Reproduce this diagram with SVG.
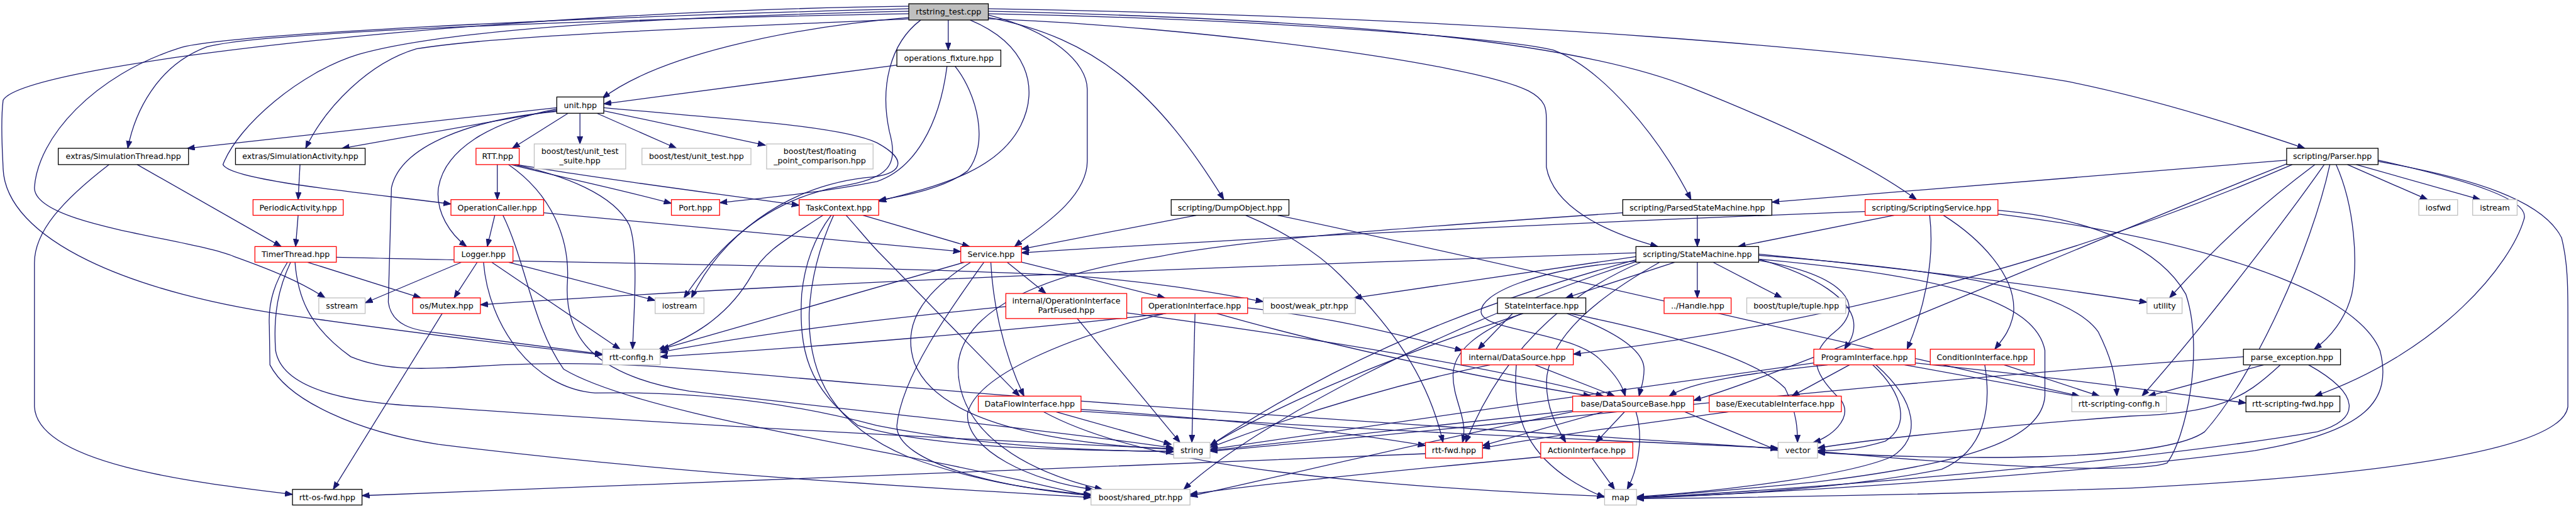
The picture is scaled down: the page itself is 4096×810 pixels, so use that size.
<svg xmlns="http://www.w3.org/2000/svg" width="4096" height="810" viewBox="0 0 4096 810">
<defs>
<marker id="a" markerUnits="userSpaceOnUse" markerWidth="13" markerHeight="10" refX="12" refY="4.5" orient="auto"><path d="M0,0L12,4.5L0,9z" fill="#191970" stroke="#191970" stroke-width="1"/></marker>
<style>
.e path{fill:none;stroke:#191970;stroke-width:1.3;marker-end:url(#a)}
rect{fill:#fff;stroke-width:1.3}
.k rect{stroke:#000}
.r rect{stroke:#f00}
.g rect{stroke:#bfbfbf}
text{font-family:"DejaVu Sans","Liberation Sans",sans-serif;font-size:12.7px;text-anchor:middle;fill:#000}
</style>
</defs>
<rect x="0" y="0" width="4096" height="810" style="fill:#fff;stroke:none"/>
<g transform="scale(0.99587)">
<g id="edges" class="e">
<path d="M1514,32 L1514,80"/>
<path d="M1451,28 C1250,45 1050,90 962,157"/>
<path d="M1451,22 C1000,30 420,50 330,75 C250,105 215,180 204,237"/>
<path d="M1455,30 C1200,42 800,55 665,78 C590,100 520,170 488,237"/>
<path d="M1451,18 C1000,28 700,50 572,87 C480,115 380,200 356,263 C370,290 600,310 720,326"/>
<path d="M1451,14 C900,28 350,55 286,77 C150,120 60,220 55,300 C55,360 300,380 374,410 C430,430 480,450 519,476"/>
<path d="M1451,10 C800,18 40,100 5,160 C0,200 5,260 5,270 C10,380 200,470 484,507 C650,530 850,555 962,567"/>
<path d="M1470,32 C1420,70 1405,140 1420,210 C1435,265 1420,285 1340,298 C1200,325 1130,420 1092,476"/>
<path d="M1549,32 C1640,70 1660,140 1630,200 C1590,280 1480,300 1403,322"/>
<path d="M1578,24 C1680,50 1736,100 1736,143 L1736,257 C1736,320 1650,370 1620,394"/>
<path d="M1578,28 C1750,60 1850,150 1954,319"/>
<path d="M1578,22 C2000,30 2400,60 2480,80 C2560,110 2650,220 2700,319"/>
<path d="M1578,30 C1900,42 2350,100 2440,145 C2469,160 2469,175 2469,190 L2469,267 C2480,330 2560,370 2647,394"/>
<path d="M1578,18 C2100,30 2500,60 2700,140 C2850,200 2980,260 3060,319"/>
<path d="M1578,14 C2400,28 3000,80 3300,130 C3450,160 3600,210 3680,237"/>
<path d="M1432,104 L964,166"/>
<path d="M1525,106 C1560,150 1580,230 1545,273 C1510,300 1450,312 1403,320"/>
<path d="M1512,106 C1500,200 1460,270 1400,290 C1300,310 1200,318 1149,324"/>
<path d="M889,172 L299,237"/>
<path d="M889,176 L546,237"/>
<path d="M907,181 L818,237"/>
<path d="M926,181 L926,230"/>
<path d="M953,181 L1080,237"/>
<path d="M964,177 L1222,232"/>
<path d="M889,174 C780,195 710,240 700,300 C695,340 720,375 745,394"/>
<path d="M889,178 C760,190 640,230 625,300 L620,483 C625,520 660,528 700,532 C800,545 900,558 962,566"/>
<path d="M964,172 C1150,190 1340,200 1400,228 C1450,255 1445,280 1380,284 C1250,300 1150,380 1104,476"/>
<path d="M219,263 L449,394"/>
<path d="M174,263 C100,320 55,370 55,420 L55,650 C60,740 300,770 467,790"/>
<path d="M479,263 L476,319"/>
<path d="M476,344 L472,394"/>
<path d="M794,263 L794,319"/>
<path d="M816,263 C880,280 980,300 1072,325"/>
<path d="M825,263 C950,285 1150,310 1276,328"/>
<path d="M821,263 C900,280 980,310 1005,360 C1020,400 1012,500 1010,558"/>
<path d="M812,263 C880,310 910,380 906,450 C900,540 950,600 1100,625 C1400,660 1700,690 1874,716"/>
<path d="M790,344 L778,394"/>
<path d="M868,340 L1534,402"/>
<path d="M803,344 C840,420 850,520 900,590 C1000,650 1300,700 1500,740 C1650,770 1700,785 1742,792"/>
<path d="M737,419 L583,484"/>
<path d="M762,419 L725,476"/>
<path d="M785,419 L990,558"/>
<path d="M812,419 L1046,480"/>
<path d="M772,419 C780,520 850,620 950,628 C1100,625 1250,640 1400,680 C1600,720 1800,720 1874,722"/>
<path d="M491,419 L672,476"/>
<path d="M537,411 C900,420 1400,425 1700,440 C1850,450 1950,470 2017,482"/>
<path d="M459,419 C440,450 428,480 430,520 L431,583 C460,640 570,690 700,710 C1100,760 1500,780 1742,795"/>
<path d="M464,419 C445,460 436,500 440,560 C450,620 550,645 690,650 C1100,680 1600,705 1874,717"/>
<path d="M471,419 C475,470 490,520 560,570 C620,595 680,590 800,583 C1000,575 1100,590 1400,615 C2000,665 2600,700 2839,717"/>
<path d="M706,501 L532,782"/>
<path d="M1378,344 L1548,394"/>
<path d="M1351,344 C1370,365 1390,390 1405,405 L1628,633"/>
<path d="M1314,344 C1260,380 1220,400 1200,440 C1160,510 1100,540 1050,560"/>
<path d="M1327,344 C1300,380 1285,420 1280,470 C1275,560 1290,620 1370,680 C1500,720 1750,720 1874,721"/>
<path d="M1331,344 C1310,390 1295,440 1292,500 C1290,600 1330,680 1450,730 C1560,770 1660,785 1742,790"/>
<path d="M1608,419 L1670,469"/>
<path d="M1628,418 L1860,476"/>
<path d="M1582,419 C1585,480 1600,560 1635,633"/>
<path d="M1540,419 L1056,558"/>
<path d="M1571,419 C1520,490 1440,600 1432,680 C1430,740 1600,780 1742,792"/>
<path d="M1550,419 C1470,470 1440,520 1460,580 C1500,680 1700,710 1874,718"/>
<path d="M1910,344 L1631,398"/>
<path d="M2040,344 C2400,420 3000,560 3320,633"/>
<path d="M1989,344 C2040,365 2100,400 2140,440 C2220,520 2280,600 2304,707"/>
<path d="M2710,344 L2710,394"/>
<path d="M2591,340 C2300,360 2000,380 1850,410 C1650,440 1540,500 1530,580 C1525,680 1620,750 1760,782"/>
<path d="M2978,338 C2600,352 2000,380 1631,404"/>
<path d="M3024,344 L2775,394"/>
<path d="M3081,344 C3090,420 3070,500 3045,558"/>
<path d="M3103,344 C3160,380 3220,440 3215,500 C3210,530 3195,545 3185,558"/>
<path d="M3190,336 C3350,350 3450,400 3490,470 C3520,560 3490,700 3460,740 C3400,760 3100,740 2902,721"/>
<path d="M3190,342 C3500,380 3760,460 3800,560 C3820,640 3780,690 3600,720 C3300,760 2800,790 2613,795"/>
<path d="M2612,410 L2162,476"/>
<path d="M2612,404 C2000,425 1300,450 767,487"/>
<path d="M2674,419 L2500,476"/>
<path d="M2710,419 L2710,476"/>
<path d="M2735,419 L2845,476"/>
<path d="M2808,406 C3050,430 3250,455 3428,483"/>
<path d="M2612,417 C2450,430 2360,470 2365,500 C2370,530 2520,530 2560,580 C2580,600 2590,615 2595,633"/>
<path d="M2650,419 C2560,470 2480,530 2470,600 C2465,650 2490,690 2500,707"/>
<path d="M2808,414 C2900,440 2960,480 2960,520 C2960,540 2950,550 2945,558"/>
<path d="M2612,415 C2300,500 2100,600 1932,712"/>
<path d="M2612,418 C2300,520 2000,680 1890,782"/>
<path d="M2808,414 C3100,440 3250,480 3265,560 L3265,633 C3260,700 3150,740 2900,770 C2750,785 2650,792 2613,795"/>
<path d="M2808,416 C2950,440 2980,490 2930,530 C2880,570 2900,600 2940,640 C2960,670 2920,700 2895,707"/>
<path d="M2808,408 C3100,430 3300,460 3350,530 C3370,570 3378,600 3380,633"/>
<path d="M2620,419 C2500,470 2400,560 2340,707"/>
<path d="M3651,256 L2829,323"/>
<path d="M3748,263 L3876,319"/>
<path d="M3762,263 L3960,319"/>
<path d="M3696,263 C3620,320 3550,380 3464,476"/>
<path d="M3730,263 C3760,330 3765,420 3755,470 C3745,510 3720,540 3695,558"/>
<path d="M3797,256 C3950,290 4040,320 4030,350 C4010,420 3900,560 3696,633"/>
<path d="M3797,258 C3950,285 4060,320 4090,380 C4100,420 4100,460 4100,500 L4100,650 C4090,720 3800,760 3400,780 C3100,790 2800,795 2613,797"/>
<path d="M3711,263 C3650,350 3520,520 3420,633"/>
<path d="M3720,263 C3690,400 3600,600 3520,690 C3450,740 3100,735 2902,723"/>
<path d="M3660,263 C3300,420 2900,520 2512,566"/>
<path d="M3651,262 C3300,400 2900,580 2704,640"/>
<path d="M2415,501 L2360,558"/>
<path d="M2430,501 C2360,530 2320,560 2320,600 C2320,640 2345,670 2335,707"/>
<path d="M2502,501 C2580,530 2625,560 2625,590 C2625,610 2620,620 2617,633"/>
<path d="M2432,501 C2250,560 2050,640 1932,712"/>
<path d="M2507,501 C2650,530 2800,570 2850,620 C2870,660 2870,690 2870,707"/>
<path d="M2451,583 L2578,633"/>
<path d="M2421,583 C2415,660 2430,740 2562,795"/>
<path d="M2379,583 C2200,620 2050,670 1932,715"/>
<path d="M2594,658 L2548,707"/>
<path d="M2612,658 C2625,700 2615,750 2598,782"/>
<path d="M2560,658 L2367,712"/>
<path d="M2520,655 C2300,680 2100,700 1932,720"/>
<path d="M2690,658 L2839,720"/>
<path d="M2515,657 C2300,700 2050,760 1900,793"/>
<path d="M2760,658 C2600,680 2450,700 2367,716"/>
<path d="M2953,583 L2861,633"/>
<path d="M2918,583 C2800,595 2700,610 2665,633"/>
<path d="M2990,583 C3040,630 3050,680 3010,705 C2960,720 2930,720 2902,720"/>
<path d="M2995,583 C3060,640 3070,700 3020,730 C2950,760 2750,785 2613,794"/>
<path d="M3041,583 L3320,634"/>
<path d="M3058,580 C3300,605 3450,625 3586,644"/>
<path d="M2896,580 C2600,620 2200,680 1932,718"/>
<path d="M3200,583 L3352,633"/>
<path d="M3169,583 C3180,650 3170,720 3100,750 C2950,780 2750,792 2613,796"/>
<path d="M3614,583 L3430,633"/>
<path d="M3582,570 C3000,610 2400,680 1932,721"/>
<path d="M3641,583 C3580,640 3540,660 3400,665 C3200,680 3000,700 2902,716"/>
<path d="M3686,583 C3770,630 3770,670 3700,690 C3400,740 2900,780 2613,796"/>
<path d="M2542,732 L2578,782"/>
<path d="M2460,730 C2200,755 2000,775 1900,790"/>
<path d="M2276,725 C1800,745 1000,775 578,792"/>
<path d="M1686,658 L1870,710"/>
<path d="M1666,658 C1780,720 2000,770 2562,793"/>
<path d="M1726,654 C1950,670 2150,690 2276,712"/>
<path d="M1726,657 C2200,690 2600,705 2839,716"/>
<path d="M1720,509 L1884,707"/>
<path d="M1606,490 C1400,510 1200,535 1054,563"/>
<path d="M1799,500 C2100,540 2400,590 2560,633"/>
<path d="M1908,501 L1903,707"/>
<path d="M1862,501 C1600,530 1300,555 1054,570"/>
<path d="M1860,501 C1700,540 1560,600 1545,660 C1540,720 1650,770 1745,782"/>
<path d="M1943,501 C2150,560 2400,610 2540,633"/>
<path d="M1992,492 C2150,510 2250,540 2335,560"/>
</g>
<g id="n_main" class="k"><rect x="1451" y="6" width="127" height="26" style="fill:#bfbfbf"/><text x="1514.5" y="23.5">rtstring_test.cpp</text></g>
<g id="n_ops" class="k"><rect x="1432" y="80" width="166" height="26"/><text x="1515" y="97.5">operations_fixture.hpp</text></g>
<g id="n_unit" class="k"><rect x="889" y="155" width="75" height="26"/><text x="926.5" y="172.5">unit.hpp</text></g>
<g id="n_simthread" class="k"><rect x="93" y="237" width="208" height="26"/><text x="197" y="254.5">extras/SimulationThread.hpp</text></g>
<g id="n_simactivity" class="k"><rect x="376" y="237" width="207" height="26"/><text x="479.5" y="254.5">extras/SimulationActivity.hpp</text></g>
<g id="n_rtt" class="r"><rect x="760" y="237" width="69" height="26"/><text x="794.5" y="254.5">RTT.hpp</text></g>
<g id="n_uts" class="g"><rect x="853" y="230" width="146" height="40"/><text x="926" y="246">boost/test/unit_test</text><text x="926" y="261">_suite.hpp</text></g>
<g id="n_ut" class="g"><rect x="1025" y="237" width="174" height="26"/><text x="1112" y="254.5">boost/test/unit_test.hpp</text></g>
<g id="n_fpc" class="g"><rect x="1224" y="230" width="170" height="40"/><text x="1309" y="246">boost/test/floating</text><text x="1309" y="261">_point_comparison.hpp</text></g>
<g id="n_parser" class="k"><rect x="3651" y="237" width="146" height="26"/><text x="3724" y="254.5">scripting/Parser.hpp</text></g>
<g id="n_periodic" class="r"><rect x="404" y="319" width="144" height="25"/><text x="476" y="336">PeriodicActivity.hpp</text></g>
<g id="n_opcaller" class="r"><rect x="720" y="319" width="148" height="25"/><text x="794" y="336">OperationCaller.hpp</text></g>
<g id="n_port" class="r"><rect x="1072" y="319" width="77" height="25"/><text x="1110.5" y="336">Port.hpp</text></g>
<g id="n_taskcontext" class="r"><rect x="1276" y="319" width="127" height="25"/><text x="1339.5" y="336">TaskContext.hpp</text></g>
<g id="n_dump" class="k"><rect x="1870" y="319" width="188" height="25"/><text x="1964" y="336">scripting/DumpObject.hpp</text></g>
<g id="n_psm" class="k"><rect x="2591" y="319" width="238" height="25"/><text x="2710" y="336">scripting/ParsedStateMachine.hpp</text></g>
<g id="n_ss" class="r"><rect x="2978" y="319" width="212" height="25"/><text x="3084" y="336">scripting/ScriptingService.hpp</text></g>
<g id="n_iosfwd" class="g"><rect x="3862" y="319" width="62" height="25"/><text x="3893" y="336">iosfwd</text></g>
<g id="n_istream" class="g"><rect x="3948" y="319" width="71" height="25"/><text x="3983.5" y="336">istream</text></g>
<g id="n_timer" class="r"><rect x="407" y="394" width="130" height="25"/><text x="472" y="411">TimerThread.hpp</text></g>
<g id="n_logger" class="r"><rect x="725" y="394" width="94" height="25"/><text x="772" y="411">Logger.hpp</text></g>
<g id="n_service" class="r"><rect x="1534" y="394" width="97" height="25"/><text x="1582.5" y="411">Service.hpp</text></g>
<g id="n_sm" class="k"><rect x="2612" y="394" width="196" height="25"/><text x="2710" y="411">scripting/StateMachine.hpp</text></g>
<g id="n_sstream" class="g"><rect x="509" y="476" width="74" height="25"/><text x="546" y="493">sstream</text></g>
<g id="n_mutex" class="r"><rect x="659" y="476" width="108" height="25"/><text x="713" y="493">os/Mutex.hpp</text></g>
<g id="n_iostream" class="g"><rect x="1046" y="476" width="78" height="25"/><text x="1085" y="493">iostream</text></g>
<g id="n_oipf" class="r"><rect x="1606" y="469" width="193" height="40"/><text x="1702.5" y="485">internal/OperationInterface</text><text x="1702.5" y="500">PartFused.hpp</text></g>
<g id="n_oi" class="r"><rect x="1823" y="476" width="169" height="25"/><text x="1907.5" y="493">OperationInterface.hpp</text></g>
<g id="n_weak" class="g"><rect x="2017" y="476" width="147" height="25"/><text x="2090.5" y="493">boost/weak_ptr.hpp</text></g>
<g id="n_si" class="k"><rect x="2391" y="476" width="141" height="25"/><text x="2461.5" y="493">StateInterface.hpp</text></g>
<g id="n_handle" class="r"><rect x="2657" y="476" width="107" height="25"/><text x="2710.5" y="493">../Handle.hpp</text></g>
<g id="n_tuple" class="g"><rect x="2789" y="476" width="158" height="25"/><text x="2868" y="493">boost/tuple/tuple.hpp</text></g>
<g id="n_utility" class="g"><rect x="3428" y="476" width="56" height="25"/><text x="3456" y="493">utility</text></g>
<g id="n_rttcfg" class="g"><rect x="962" y="558" width="92" height="25"/><text x="1008" y="575">rtt-config.h</text></g>
<g id="n_ds" class="r"><rect x="2333" y="558" width="179" height="25"/><text x="2422.5" y="575">internal/DataSource.hpp</text></g>
<g id="n_pi" class="r"><rect x="2896" y="558" width="162" height="25"/><text x="2977" y="575">ProgramInterface.hpp</text></g>
<g id="n_ci" class="r"><rect x="3082" y="558" width="166" height="25"/><text x="3165" y="575">ConditionInterface.hpp</text></g>
<g id="n_pe" class="k"><rect x="3582" y="558" width="155" height="25"/><text x="3659.5" y="575">parse_exception.hpp</text></g>
<g id="n_dfi" class="r"><rect x="1562" y="633" width="164" height="25"/><text x="1644" y="650">DataFlowInterface.hpp</text></g>
<g id="n_dsb" class="r"><rect x="2511" y="633" width="193" height="25"/><text x="2607.5" y="650">base/DataSourceBase.hpp</text></g>
<g id="n_ei" class="r"><rect x="2729" y="633" width="211" height="25"/><text x="2834.5" y="650">base/ExecutableInterface.hpp</text></g>
<g id="n_rsc" class="g"><rect x="3308" y="633" width="151" height="25"/><text x="3383.5" y="650">rtt-scripting-config.h</text></g>
<g id="n_rsf" class="k"><rect x="3586" y="633" width="150" height="25"/><text x="3661" y="650">rtt-scripting-fwd.hpp</text></g>
<g id="n_string" class="g"><rect x="1874" y="707" width="58" height="25"/><text x="1903" y="724">string</text></g>
<g id="n_rttfwd" class="r"><rect x="2276" y="707" width="91" height="25"/><text x="2321.5" y="724">rtt-fwd.hpp</text></g>
<g id="n_ai" class="r"><rect x="2460" y="707" width="147" height="25"/><text x="2533.5" y="724">ActionInterface.hpp</text></g>
<g id="n_vector" class="g"><rect x="2839" y="707" width="63" height="25"/><text x="2870.5" y="724">vector</text></g>
<g id="n_osfwd" class="k"><rect x="467" y="782" width="111" height="25"/><text x="522.5" y="799">rtt-os-fwd.hpp</text></g>
<g id="n_shptr" class="g"><rect x="1742" y="782" width="158" height="25"/><text x="1821" y="799">boost/shared_ptr.hpp</text></g>
<g id="n_map" class="g"><rect x="2562" y="782" width="51" height="25"/><text x="2587.5" y="799">map</text></g>
</g>
</svg>
